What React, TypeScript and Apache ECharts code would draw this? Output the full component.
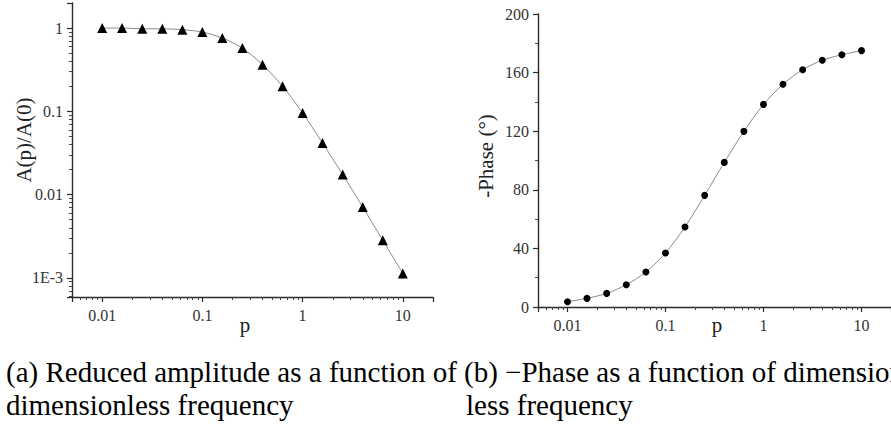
import React, { useEffect, useRef } from 'react';
import * as echarts from 'echarts';

// Dimensionless frequency p (shared by both panels)
const freq = [0.01, 0.0158, 0.0251, 0.0398, 0.0631, 0.1, 0.158, 0.251, 0.398, 0.631, 1, 1.58, 2.51, 3.98, 6.31, 10];
// (a) Reduced amplitude A(p)/A(0)
const amplitude = [1.0, 1.0, 0.98, 0.98, 0.955, 0.895, 0.76, 0.575, 0.363, 0.2, 0.0955, 0.0417, 0.0174, 0.0071, 0.00283, 0.00113];
// (b) -Phase in degrees
const phase = [3.6, 5.9, 9.3, 15.2, 23.9, 36.9, 54.6, 76.2, 98.7, 119.9, 138.3, 152, 162, 168.4, 172.2, 175];

// Tick labels
const freqTickValues = [0.01, 0.1, 1, 10];
const freqTickLabels = ['0.01', '0.1', '1', '10'];
const ampTickValues = [0.001, 0.01, 0.1, 1];
const ampTickLabels = ['1E-3', '0.01', '0.1', '1'];
const phaseTickValues = [0, 40, 80, 120, 160, 200];
const phaseTickLabels = ['0', '40', '80', '120', '160', '200'];

const captionA = ['(a) Reduced amplitude as a function of', 'dimensionless frequency'];
const captionB = ['(b) \u2212Phase as a function of dimension-', 'less frequency'];

const FONT = '"Liberation Serif", "Times New Roman", serif';

const logLookup = (vals: number[], labels: string[]) => (v: number) => {
  const i = vals.findIndex((t) => Math.abs(Math.log10(v) - Math.log10(t)) < 1e-6);
  return i >= 0 ? labels[i] : '';
};
const linLookup = (vals: number[], labels: string[]) => (v: number) => {
  const i = vals.findIndex((t) => Math.abs(v - t) < 1e-6);
  return i >= 0 ? labels[i] : '';
};

const axisLineStyle = { color: '#2a2a2a', width: 1.4 };
const labelStyle = { fontFamily: FONT, fontSize: 16, color: '#333' };

export default function App() {
  const ref = useRef<HTMLDivElement>(null);

  useEffect(() => {
    document.body.style.margin = '0';
    if (!ref.current) return;
    const chart = echarts.init(ref.current, undefined, { renderer: 'svg' });

    const xAxisBase = (gridIndex: number) => ({
      type: 'log' as const,
      logBase: 10,
      gridIndex,
      min: 0.005,
      max: 20,
      axisLine: { show: true, onZero: false, lineStyle: axisLineStyle },
      axisTick: { show: true, length: 5, lineStyle: { color: '#2a2a2a', width: 1.2 } },
      minorTick: { show: true, splitNumber: 9, length: 3, lineStyle: { color: '#444', width: 1 } },
      axisLabel: {
        ...labelStyle,
        margin: 10,
        showMinLabel: false,
        showMaxLabel: false,
        formatter: logLookup(freqTickValues, freqTickLabels),
      },
      splitLine: { show: false },
      minorSplitLine: { show: false },
    });

    chart.setOption({
      animation: false,
      backgroundColor: '#fff',
      grid: [
        { left: 72, top: 3, width: 361, height: 294 },
        { left: 538, top: 14, width: 361, height: 293 },
      ],
      xAxis: [xAxisBase(0), xAxisBase(1)],
      yAxis: [
        {
          type: 'log',
          logBase: 10,
          gridIndex: 0,
          min: 0.00059,
          max: 2,
          axisLine: { show: true, onZero: false, lineStyle: axisLineStyle },
          axisTick: { show: true, length: 5, lineStyle: { color: '#2a2a2a', width: 1.2 } },
          minorTick: { show: true, splitNumber: 9, length: 3, lineStyle: { color: '#444', width: 1 } },
          axisLabel: {
            ...labelStyle,
            margin: 9,
            showMinLabel: false,
            showMaxLabel: false,
            formatter: logLookup(ampTickValues, ampTickLabels),
          },
          splitLine: { show: false },
          minorSplitLine: { show: false },
        },
        {
          type: 'value',
          gridIndex: 1,
          min: 0,
          max: 200,
          interval: 40,
          axisLine: { show: true, onZero: false, lineStyle: axisLineStyle },
          axisTick: { show: true, length: 5, lineStyle: { color: '#2a2a2a', width: 1.2 } },
          minorTick: { show: true, splitNumber: 2, length: 3, lineStyle: { color: '#444', width: 1 } },
          axisLabel: {
            ...labelStyle,
            margin: 9,
            formatter: linLookup(phaseTickValues, phaseTickLabels),
          },
          splitLine: { show: false },
          minorSplitLine: { show: false },
        },
      ],
      series: [
        {
          type: 'line',
          xAxisIndex: 0,
          yAxisIndex: 0,
          data: freq.map((f, i) => [f, amplitude[i]]),
          smooth: 0.3,
          symbol: 'triangle',
          symbolSize: 10,
          itemStyle: { color: '#000' },
          lineStyle: { color: '#8a8a8a', width: 1 },
          z: 3,
        },
        {
          type: 'line',
          xAxisIndex: 1,
          yAxisIndex: 1,
          data: freq.map((f, i) => [f, phase[i]]),
          smooth: 0.3,
          symbol: 'circle',
          symbolSize: 7,
          itemStyle: { color: '#000' },
          lineStyle: { color: '#8a8a8a', width: 1 },
          z: 3,
        },
      ],
      graphic: [
        {
          type: 'text', x: 24, y: 140, rotation: Math.PI / 2,
          style: { text: 'A(p)/A(0)', font: `21px ${FONT}`, fill: '#222', align: 'center', verticalAlign: 'middle', textAlign: 'center', textVerticalAlign: 'middle' },
        },
        {
          type: 'text', x: 486, y: 156, rotation: Math.PI / 2,
          style: { text: '-Phase (\u00b0)', font: `21px ${FONT}`, fill: '#222', align: 'center', verticalAlign: 'middle', textAlign: 'center', textVerticalAlign: 'middle' },
        },
        {
          type: 'text', x: 245, y: 325,
          style: { text: 'p', font: `21px ${FONT}`, fill: '#222', align: 'center', verticalAlign: 'middle', textAlign: 'center', textVerticalAlign: 'middle' },
        },
        {
          type: 'text', x: 717, y: 325,
          style: { text: 'p', font: `21px ${FONT}`, fill: '#222', align: 'center', verticalAlign: 'middle', textAlign: 'center', textVerticalAlign: 'middle' },
        },
        {
          type: 'text', x: 6, y: 372,
          style: { text: captionA[0], font: `29px ${FONT}`, fill: '#000', align: 'left', verticalAlign: 'middle', textAlign: 'left', textVerticalAlign: 'middle' },
        },
        {
          type: 'text', x: 6, y: 405,
          style: { text: captionA[1], font: `29px ${FONT}`, fill: '#000', align: 'left', verticalAlign: 'middle', textAlign: 'left', textVerticalAlign: 'middle' },
        },
        {
          type: 'text', x: 464, y: 372,
          style: { text: captionB[0], font: `29px ${FONT}`, fill: '#000', align: 'left', verticalAlign: 'middle', textAlign: 'left', textVerticalAlign: 'middle' },
        },
        {
          type: 'text', x: 466, y: 405,
          style: { text: captionB[1], font: `29px ${FONT}`, fill: '#000', align: 'left', verticalAlign: 'middle', textAlign: 'left', textVerticalAlign: 'middle' },
        },
      ],
    });

    return () => chart.dispose();
  }, []);

  return <div ref={ref} style={{ width: 891, height: 430 }} />;
}
